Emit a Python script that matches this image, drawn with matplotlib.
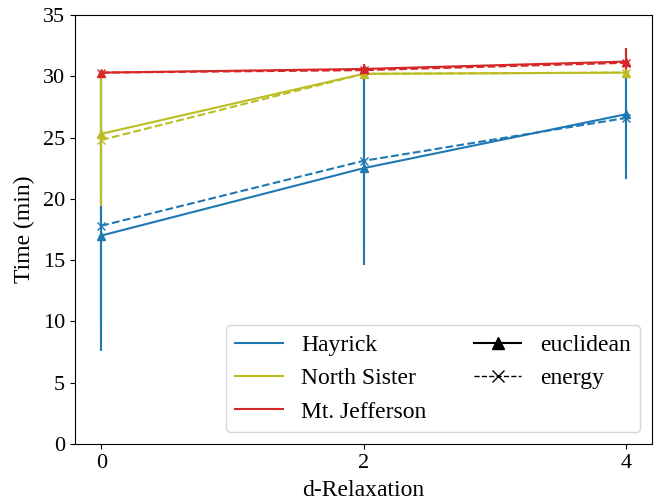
import matplotlib.pyplot as plt
from matplotlib.lines import Line2D
import numpy as np

plt.rcParams['font.family'] = ['Liberation Serif', 'DejaVu Serif']

# d-relaxation levels on the x axis
relax = [0, 2, 4]
sites = ['Hayrick', 'North Sister', 'Mt. Jefferson']
colors = ['#1f77b4', '#bcbd22', '#d62728']

# mean time (min) per site, euclidean / energy
euc_mean = [[17.0, 22.5, 26.9], [25.3, 30.2, 30.3], [30.3, 30.6, 31.2]]
eng_mean = [[17.8, 23.1, 26.6], [24.8, 30.2, 30.3], [30.3, 30.5, 31.1]]
# min / max range (error bars)
euc_lo = [[7.6, 14.6, 21.6], [19.4, 30.2, 30.3], [30.3, 30.3, 30.4]]
euc_hi = [[30.3, 30.3, 30.3], [30.3, 30.2, 30.3], [30.4, 31.0, 32.3]]
eng_lo = [[9.5, 16.0, 22.5], [20.5, 30.2, 30.3], [30.3, 30.3, 30.4]]
eng_hi = [[30.3, 30.3, 30.3], [30.3, 30.2, 30.3], [30.4, 30.9, 32.2]]

fig, ax = plt.subplots(figsize=(6.58, 5.01), dpi=100)
fig.subplots_adjust(left=0.114, right=0.991, top=0.97, bottom=0.114)

for i, site in enumerate(sites):
    m = np.array(euc_mean[i])
    err = [m - np.array(euc_lo[i]), np.array(euc_hi[i]) - m]
    ax.errorbar(relax, m, yerr=err, color=colors[i], marker='^', ms=6,
                linestyle='-', lw=1.5)
    m = np.array(eng_mean[i])
    err = [m - np.array(eng_lo[i]), np.array(eng_hi[i]) - m]
    ax.errorbar(relax, m, yerr=err, color=colors[i], marker='x', ms=6,
                linestyle='--', lw=1.5)

ax.set_xlim(-0.2, 4.2)
ax.set_ylim(0, 35)
ax.set_xticks(relax)
ax.set_yticks(np.arange(0, 36, 5))
ax.tick_params(labelsize=16)
ax.set_xlabel('d-Relaxation', fontsize=17, labelpad=5)
ax.set_ylabel('Time (min)', fontsize=17, labelpad=6)

handles = [Line2D([], [], color=c, lw=1.5) for c in colors]
handles += [Line2D([], [], color='black', lw=1.5, marker='^', ms=9, linestyle='-'),
            Line2D([], [], color='black', lw=1, marker='x', ms=9, linestyle='--')]
labels = sites + ['euclidean', 'energy']
ax.legend(handles, labels, ncol=2, loc='lower right', fontsize=17)

plt.savefig('out.png', dpi=100)
